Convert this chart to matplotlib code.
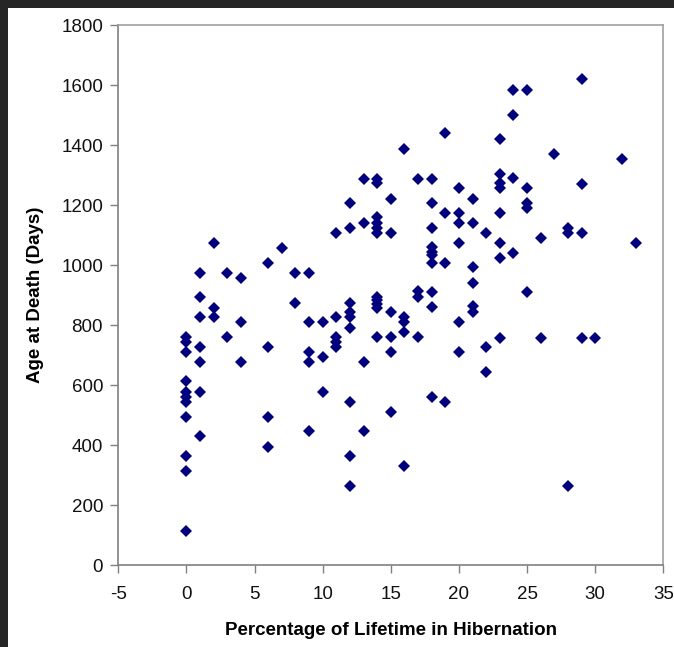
import numpy as np
import matplotlib
matplotlib.use('Agg')
import matplotlib.pyplot as plt
from matplotlib.patches import Rectangle

# percentage of lifetime spent hibernating, and age at death (days)
hib_0 = [761, 744, 711, 612, 578, 561, 544, 494, 363, 312, 114]
hib_1 = [972, 893, 828, 728, 676, 578, 430]
hib_2 = [1074, 858, 828]
hib_3 = [972, 759]
hib_4 = [957, 809, 676]
hib_6 = [1008, 728, 494, 394]
hib_7 = [1058]
hib_8 = [972, 872]
hib_9 = [972, 809, 711, 676, 447]
hib_10 = [809, 693, 578]
hib_11 = [1106, 826, 760, 742, 727]
hib_12 = [1206, 1122, 874, 842, 826, 789, 545, 364, 264]
hib_13 = [1287, 1139, 676, 447]
hib_14 = [1287, 1272, 1159, 1139, 1122, 1106, 895, 882, 870, 856, 761]
hib_15 = [1221, 1106, 842, 759, 711, 510]
hib_16 = [1386, 828, 811, 776, 331]
hib_17 = [1287, 913, 894, 759]
hib_18 = [1287, 1206, 1122, 1061, 1045, 1033, 1006, 909, 859, 561]
hib_19 = [1439, 1174, 1006, 544]
hib_20 = [1256, 1174, 1139, 1074, 811, 711]
hib_21 = [1221, 1139, 992, 940, 864, 843]
hib_22 = [1106, 726, 643]
hib_23 = [1419, 1304, 1275, 1256, 1172, 1074, 1023, 758]
hib_24 = [1583, 1501, 1289, 1039]
hib_25 = [1583, 1256, 1208, 1189, 909]
hib_26 = [1091, 758]
hib_27 = [1370]
hib_28 = [1124, 1106, 264]
hib_29 = [1619, 1270, 1108, 758]
hib_30 = [758]
hib_32 = [1353]
hib_33 = [1074]

groups = {0: hib_0, 1: hib_1, 2: hib_2, 3: hib_3, 4: hib_4, 6: hib_6, 7: hib_7,
          8: hib_8, 9: hib_9, 10: hib_10, 11: hib_11, 12: hib_12, 13: hib_13,
          14: hib_14, 15: hib_15, 16: hib_16, 17: hib_17, 18: hib_18, 19: hib_19,
          20: hib_20, 21: hib_21, 22: hib_22, 23: hib_23, 24: hib_24, 25: hib_25,
          26: hib_26, 27: hib_27, 28: hib_28, 29: hib_29, 30: hib_30, 32: hib_32,
          33: hib_33}

x_ticks = [-5, 0, 5, 10, 15, 20, 25, 30, 35]
y_ticks = [0, 200, 400, 600, 800, 1000, 1200, 1400, 1600, 1800]

plt.rcParams['font.family'] = ['Liberation Sans', 'DejaVu Sans']
plt.rcParams['axes.unicode_minus'] = False

xs = []
ys = []
for k in groups:
    for v in groups[k]:
        xs.append(k)
        ys.append(v)

fig = plt.figure(figsize=(6.74, 6.47), dpi=100)
fig.patch.set_facecolor('white')

# dark window frame along top and left
fig.patches.append(Rectangle((0, 1 - 7.5 / 647), 1, 7.5 / 647, transform=fig.transFigure,
                             facecolor='#262626', edgecolor='none', zorder=0))
fig.patches.append(Rectangle((0, 0), 7.5 / 674, 1, transform=fig.transFigure,
                             facecolor='#262626', edgecolor='none', zorder=0))

ax = fig.add_axes([118.3 / 674, 82 / 647, 545 / 674, 540 / 647])
ax.plot(xs, ys, 'D', color='#000080', markersize=6.2, markeredgewidth=0, linestyle='none')

ax.set_xlim(-5, 35)
ax.set_ylim(0, 1800)
ax.set_xticks(x_ticks)
ax.set_yticks(y_ticks)
ax.tick_params(axis='both', direction='out', length=6, width=1, color='#808080',
               labelsize=13.5, labelcolor='#111111', pad=5)
ax.tick_params(axis='x', pad=9)

for s in ['left', 'bottom']:
    ax.spines[s].set_color('#808080')
    ax.spines[s].set_linewidth(1.2)
for s in ['top', 'right']:
    ax.spines[s].set_color('#a0a0a0')
    ax.spines[s].set_linewidth(1.2)

ax.set_xlabel('Percentage of Lifetime in Hibernation', fontsize=13.5, fontweight='bold', labelpad=14)
ax.set_ylabel('Age at Death (Days)', fontsize=13.5, fontweight='bold', labelpad=12)

fig.savefig('out.png', dpi=100)
